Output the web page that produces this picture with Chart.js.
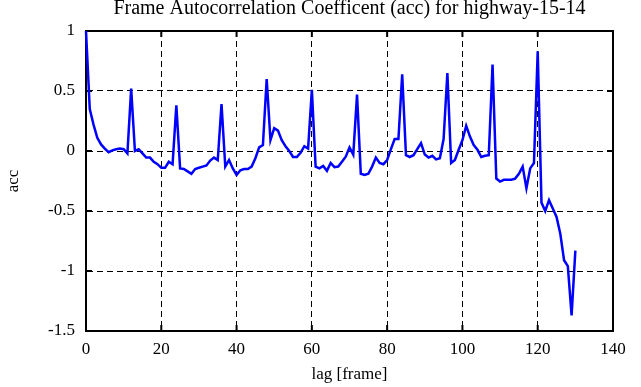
<!DOCTYPE html>
<html>
<head>
<meta charset="utf-8">
<script src="https://cdn.jsdelivr.net/npm/chart.js@4.4.1/dist/chart.umd.min.js"></script>
<style>
  html, body { margin: 0; padding: 0; background: #fff; }
  #wrap { width: 641px; height: 387px; }
</style>
</head>
<body>
<div id="wrap"><canvas id="accChart" width="641" height="387"></canvas></div>
<script>
// lag in frames
const lags = [
  0, 1, 2, 3, 4, 5, 6, 7, 8, 9, 10, 11, 12, 13, 14, 15, 16, 17, 18, 19,
  20, 21, 22, 23, 24, 25, 26, 27, 28, 29, 30, 31, 32, 33, 34, 35, 36, 37, 38, 39,
  40, 41, 42, 43, 44, 45, 46, 47, 48, 49, 50, 51, 52, 53, 54, 55, 56, 57, 58, 59,
  60, 61, 62, 63, 64, 65, 66, 67, 68, 69, 70, 71, 72, 73, 74, 75, 76, 77, 78, 79,
  80, 81, 82, 83, 84, 85, 86, 87, 88, 89, 90, 91, 92, 93, 94, 95, 96, 97, 98, 99,
  100, 101, 102, 103, 104, 105, 106, 107, 108, 109, 110, 111, 112, 113, 114, 115, 116, 117, 118, 119,
  120, 121, 122, 123, 124, 125, 126, 127, 128, 129, 130
];

// autocorrelation coefficient
const acc = [
  1.0, 0.35, 0.22, 0.11, 0.055, 0.02, -0.01, 0.005, 0.015, 0.02,
  0.015, -0.02, 0.52, 0.0, 0.015, -0.02, -0.055, -0.055, -0.09, -0.11,
  -0.14, -0.14, -0.09, -0.11, 0.38, -0.145, -0.15, -0.17, -0.19, -0.15,
  -0.14, -0.13, -0.12, -0.08, -0.055, -0.075, 0.39, -0.13, -0.075, -0.145,
  -0.2, -0.16, -0.15, -0.15, -0.13, -0.06, 0.03, 0.05, 0.6, 0.09,
  0.19, 0.17, 0.09, 0.04, 0.0, -0.05, -0.05, -0.015, 0.04, 0.02,
  0.51, -0.13, -0.145, -0.125, -0.165, -0.1, -0.135, -0.13, -0.09, -0.047,
  0.03, -0.03, 0.47, -0.19, -0.2, -0.19, -0.13, -0.055, -0.1, -0.11,
  -0.075, 0.015, 0.1, 0.1, 0.64, -0.035, -0.05, -0.035, 0.015, 0.065,
  -0.03, -0.055, -0.04, -0.07, -0.06, 0.1, 0.65, -0.1, -0.075, 0.01,
  0.09, 0.21, 0.12, 0.05, 0.01, -0.05, -0.04, -0.035, 0.72, -0.23,
  -0.255, -0.24, -0.24, -0.24, -0.23, -0.19, -0.13, -0.31, -0.145, -0.1,
  0.83, -0.43, -0.5, -0.41, -0.48, -0.55, -0.69, -0.91, -0.96, -1.37,
  -0.83
];

const xTicks = [0, 20, 40, 60, 80, 100, 120, 140];
const yTicks = [1, 0.5, 0, -0.5, -1, -1.5];

const serif = "'Liberation Serif', 'DejaVu Serif', serif";

// top/right frame lines and inward tick marks (matlab style box)
const framePlugin = {
  id: 'frame',
  beforeDatasetsDraw(chart) {
    const { ctx, chartArea: a, scales: { x, y } } = chart;
    ctx.save();
    ctx.strokeStyle = '#000';
    ctx.lineWidth = 2;
    ctx.strokeRect(a.left, a.top, a.right - a.left, a.bottom - a.top);
    ctx.beginPath();
    xTicks.forEach(v => {
      const px = x.getPixelForValue(v);
      ctx.moveTo(px, a.top); ctx.lineTo(px, a.top + 6);
      ctx.moveTo(px, a.bottom); ctx.lineTo(px, a.bottom - 6);
    });
    yTicks.forEach(v => {
      const py = y.getPixelForValue(v);
      ctx.moveTo(a.left, py); ctx.lineTo(a.left + 6, py);
      ctx.moveTo(a.right, py); ctx.lineTo(a.right - 6, py);
    });
    ctx.stroke();
    ctx.restore();
  }
};

const ctx = document.getElementById('accChart').getContext('2d');
new Chart(ctx, {
  type: 'line',
  data: {
    datasets: [{
      label: 'acc',
      data: lags.map((l, i) => ({ x: l, y: acc[i] })),
      borderColor: '#0000ff',
      borderWidth: 2.5,
      pointRadius: 0,
      tension: 0,
      fill: false,
      clip: 3
    }]
  },
  options: {
    responsive: false,
    animation: false,
    layout: { padding: { left: 0, right: 28, top: 0, bottom: 0 } },
    plugins: {
      legend: { display: false },
      tooltip: { enabled: false },
      title: {
        display: true,
        text: 'Frame Autocorrelation Coefficent (acc) for highway-15-14',
        fullSize: false,
        color: '#000',
        font: { family: serif, size: 20, weight: 'normal', lineHeight: 0.85 },
        padding: { top: 0, bottom: 14 }
      }
    },
    scales: {
      x: {
        type: 'linear',
        min: 0,
        max: 140,
        afterFit: s => { s.height = 56; },
        ticks: {
          stepSize: 20,
          color: '#000',
          padding: 8,
          maxRotation: 0,
          font: { family: serif, size: 17 }
        },
        grid: { color: '#000', lineWidth: 1, drawTicks: false },
        border: { display: true, color: '#000', width: 2, dash: [6, 4] },
        title: {
          display: true,
          text: 'lag [frame]',
          color: '#000',
          font: { family: serif, size: 17 },
          padding: { top: 0, bottom: 2 }
        }
      },
      y: {
        min: -1.5,
        max: 1,
        afterFit: s => { s.width = 86; },
        ticks: {
          stepSize: 0.5,
          color: '#000',
          padding: 11,
          font: { family: serif, size: 17 },
          callback: v => v
        },
        grid: { color: '#000', lineWidth: 1, drawTicks: false },
        border: { display: true, color: '#000', width: 2, dash: [6, 4] },
        title: {
          display: true,
          text: 'acc',
          color: '#000',
          font: { family: serif, size: 17 },
          padding: { top: 3, bottom: 0 }
        }
      }
    }
  },
  plugins: [framePlugin]
});
</script>
</body>
</html>
